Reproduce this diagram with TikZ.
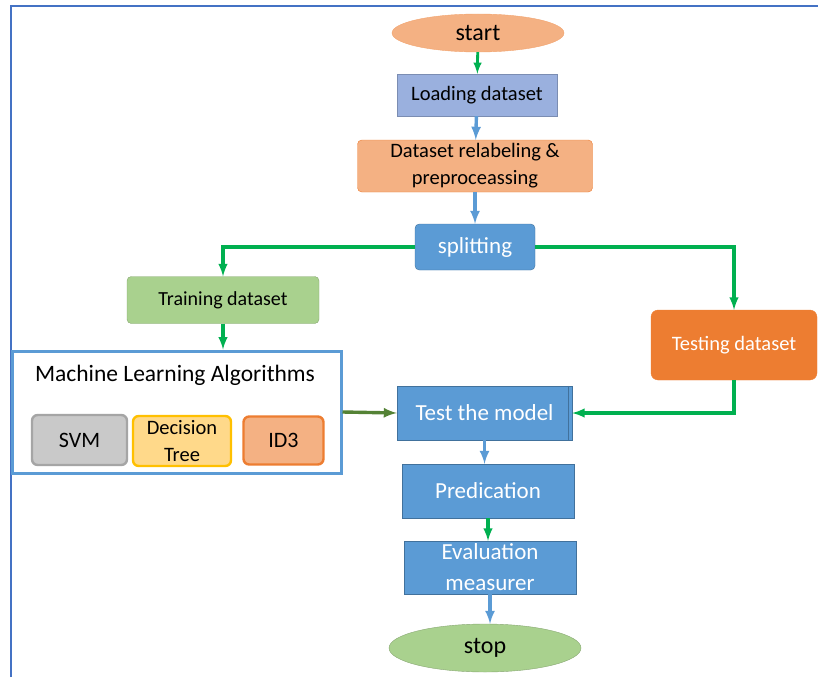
\documentclass[tikz,border=0pt]{standalone}
\usepackage{fontspec}
\setmainfont{Carlito}
\usetikzlibrary{arrows,shapes}
\tikzset{>=latex}
\definecolor{frameblue}{HTML}{4472C4}
\definecolor{accblue}{HTML}{5B9BD5}
\definecolor{darkblue}{HTML}{41719C}
\definecolor{lavender}{HTML}{9AB0DE}
\definecolor{salmon}{HTML}{F4B183}
\definecolor{accorange}{HTML}{ED7D31}
\definecolor{lightgreen}{HTML}{A9D18E}
\definecolor{arrowgreen}{HTML}{00B050}
\definecolor{olivegreen}{HTML}{548235}
\definecolor{greybox}{HTML}{C9C9C9}
\definecolor{greyline}{HTML}{A5A5A5}
\definecolor{goldbox}{HTML}{FFD98A}
\definecolor{goldline}{HTML}{FFC000}
\tikzstyle{terminal}=[ellipse,draw=accorange!70,fill=salmon,thin,inner sep=0pt,font=\fontsize{24}{26}\selectfont]
\tikzstyle{process}=[rectangle,draw=darkblue,fill=accblue,thin,inner sep=0pt,text=white,align=center,font=\fontsize{23}{26}\selectfont]
\tikzstyle{soft}=[rectangle,rounded corners=0.15cm,thin,inner sep=0pt,align=center]
\tikzstyle{algo}=[rectangle,rounded corners=0.2cm,line width=2.4pt,inner sep=0pt,align=center,font=\fontsize{22}{24}\selectfont]
\tikzstyle{blueflow}=[->,draw=accblue,line width=3.4pt]
\tikzstyle{greenflow}=[->,draw=arrowgreen,line width=3.2pt]
\begin{document}
\begin{tikzpicture}[x=1pt,y=-1pt]
	\useasboundingbox (0,0) rectangle (818,677);
	\draw[frameblue,line width=2.4pt] (11,677) -- (11,6) -- (818,6);

	\node[terminal, minimum width=172pt, minimum height=38pt] (start) at (478, 33) {start};
	\node[process, draw=lavender!80!black, fill=lavender, text=black, minimum width=160pt, minimum height=42pt, font=\fontsize{20.5}{22}\selectfont] (load) at (477, 95) {Loading dataset};
	\node[soft, draw=accorange, fill=salmon, minimum width=235pt, minimum height=52pt, font=\fontsize{20.5}{27}\selectfont] (relabel) at (475, 166) {Dataset relabeling \&\\preproceassing};
	\node[process, rounded corners=0.15cm, minimum width=120pt, minimum height=46pt] (split) at (475, 247) {splitting};
	\node[soft, draw=lightgreen!80!black, fill=lightgreen, minimum width=192pt, minimum height=47pt, font=\fontsize{20}{22}\selectfont] (train) at (223, 300) {Training dataset};
	\node[soft, rounded corners=0.25cm, draw=accorange, fill=accorange, text=white, minimum width=166pt, minimum height=70pt, font=\fontsize{20.5}{22}\selectfont] (testing) at (734, 345) {Testing dataset};

	\node[rectangle, draw=accblue, line width=3pt, fill=white, minimum width=329pt, minimum height=122pt, inner sep=0pt] (ml) at (176.5, 412) {};
	\node[font=\fontsize{23.5}{26}\selectfont] (mltitle) at (175, 375) {Machine Learning Algorithms};
	\node[algo, draw=greyline, fill=greybox, minimum width=95pt, minimum height=50pt] (svm) at (79.5, 440) {SVM};
	\node[algo, draw=goldline, fill=goldbox, minimum width=98pt, minimum height=50pt, font=\fontsize{20.5}{27}\selectfont] (dtree) at (182, 441) {Decision\\Tree};
	\node[algo, draw=accorange, fill=salmon, minimum width=80pt, minimum height=48pt] (id3) at (283.5, 440.5) {ID3};

	\node[process, minimum width=175pt, minimum height=54pt] (model) at (484.5, 413) {Test the model};
	\draw[darkblue, thin] ([xshift=-4pt]model.north east) -- ([xshift=-4pt]model.south east);
	\node[process, minimum width=172pt, minimum height=54pt] (predict) at (488, 491) {Predication};
	\node[process, minimum width=172pt, minimum height=53pt, font=\fontsize{23}{31}\selectfont] (eval) at (490, 567.5) {Evaluation\\measurer};
	\node[terminal, draw=lightgreen!80!black, fill=lightgreen, minimum width=192pt, minimum height=48pt] (stop) at (485, 648) {stop};

	\draw[greenflow, line width=2.8pt] (start) -- (load);
	\draw[blueflow] (load) -- (relabel);
	\draw[blueflow] (relabel) -- (split);
	\draw[greenflow] (split.west) -| (train.north);
	\draw[greenflow] (split.east) -| (testing.north);
	\draw[greenflow] (train) -- (train |- ml.north);
	\draw[->, draw=olivegreen, line width=3.4pt] (ml.east) -- (model.west);
	\draw[greenflow] (testing.south) |- (model.east);
	\draw[blueflow] (model.south) -- (predict.north -| model.south);
	\draw[greenflow] (predict.south) -- (predict.south |- eval.north);
	\draw[blueflow] (eval.south) -- (eval.south |- stop.north);
\end{tikzpicture}
\end{document}
